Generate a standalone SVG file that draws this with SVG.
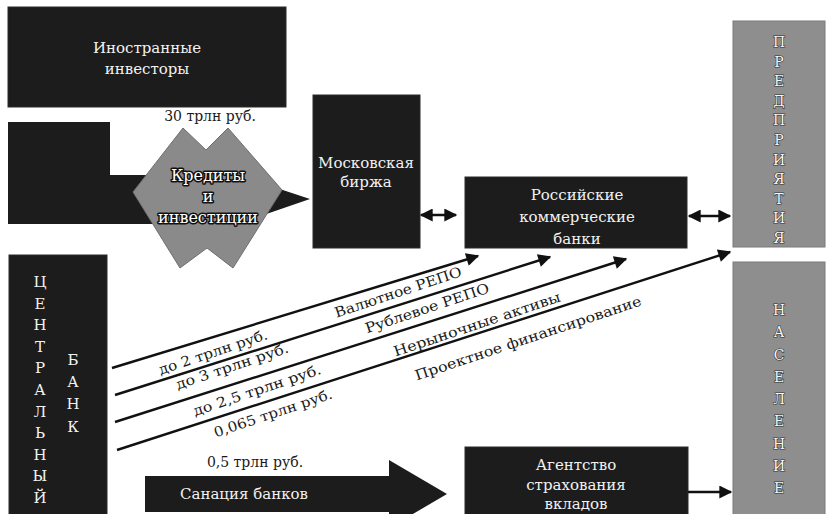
<svg xmlns="http://www.w3.org/2000/svg" width="829" height="514" viewBox="0 0 829 514">
<defs>
<style>
.blk{fill:#1c1c1c;stroke:#2a2a2a;stroke-width:1}
.gry{fill:#8e8e8e;stroke:#7a7a7a;stroke-width:1}
.wt{font-family:"DejaVu Serif","Liberation Serif",serif;font-size:15px;fill:#f2f2f2;text-anchor:middle}
.vt{font-family:"DejaVu Serif","Liberation Serif",serif;font-size:14px;fill:#f6f6f6;text-anchor:middle;stroke:#333;stroke-width:1.2px;paint-order:stroke}
.ol{font-family:"DejaVu Serif","Liberation Serif",serif;font-size:16px;fill:#ffffff;text-anchor:middle;stroke:#111;stroke-width:3px;paint-order:stroke;stroke-linejoin:round}
.lb{font-family:"DejaVu Serif","Liberation Serif",serif;font-size:14px;fill:#1a1a1a;text-anchor:middle}
.ln{stroke:#111;stroke-width:2.4;fill:none}
</style>
<marker id="ah" viewBox="0 0 10 10" refX="9" refY="5" markerWidth="15" markerHeight="13" markerUnits="userSpaceOnUse" orient="auto-start-reverse">
<path d="M0,0 L10,5 L0,10 Z" fill="#111"/>
</marker>
</defs>
<rect width="829" height="514" fill="#ffffff"/>

<g id="inostrannye">
<rect class="blk" x="8" y="7" width="278" height="100"/>
<text class="wt" x="147" y="53" font-size="16">Иностранные</text>
<text class="wt" x="147" y="74" font-size="16">инвесторы</text>
</g>

<g id="kredity">
<polygon fill="#1c1c1c" points="8,122 110,122 110,175 237,175 310,199 237,224 8,224"/>
<polygon fill="#8a8a8a" stroke="#6e6e6e" stroke-width="1" points="133,192 183,128 206,150 228,128 282,190 233,268 207,248 180,268"/>
<text class="ol" x="208" y="181">Кредиты</text>
<text class="ol" x="208" y="202">и</text>
<text class="ol" x="208" y="223" font-size="15">инвестиции</text>
<text class="lb" x="210" y="121">30 трлн руб.</text>
</g>

<g id="birzha">
<rect class="blk" x="313" y="95" width="107" height="153"/>
<text class="wt" x="366" y="168">Московская</text>
<text class="wt" x="366" y="187">биржа</text>
</g>

<g id="banki">
<rect class="blk" x="465" y="177" width="222" height="71"/>
<text class="wt" x="577" y="200">Российские</text>
<text class="wt" x="577" y="222">коммерческие</text>
<text class="wt" x="577" y="244">банки</text>
</g>

<g id="predpriyatiya">
<rect class="gry" x="733" y="21" width="92" height="226"/>
<text class="vt" font-size="13" x="779" y="47">П</text>
<text class="vt" font-size="13" x="779" y="66.6">Р</text>
<text class="vt" font-size="13" x="779" y="86.2">Е</text>
<text class="vt" font-size="13" x="779" y="105.8">Д</text>
<text class="vt" font-size="13" x="779" y="125.4">П</text>
<text class="vt" font-size="13" x="779" y="145">Р</text>
<text class="vt" font-size="13" x="779" y="164.6">И</text>
<text class="vt" font-size="13" x="779" y="184.2">Я</text>
<text class="vt" font-size="13" x="779" y="203.8">Т</text>
<text class="vt" font-size="13" x="779" y="223.4">И</text>
<text class="vt" font-size="13" x="779" y="243">Я</text>
</g>

<g id="naselenie">
<rect class="gry" x="733" y="262" width="92" height="256"/>
<text class="vt" x="779" y="315">Н</text>
<text class="vt" x="779" y="337.3">А</text>
<text class="vt" x="779" y="359.5">С</text>
<text class="vt" x="779" y="381.8">Е</text>
<text class="vt" x="779" y="404">Л</text>
<text class="vt" x="779" y="426.3">Е</text>
<text class="vt" x="779" y="448.5">Н</text>
<text class="vt" x="779" y="470.8">И</text>
<text class="vt" x="779" y="493">Е</text>
</g>

<g id="centralbank">
<rect class="blk" x="9" y="255" width="98" height="262"/>
<text class="wt" x="40" y="287">Ц</text>
<text class="wt" x="40" y="308.6">Е</text>
<text class="wt" x="40" y="330.2">Н</text>
<text class="wt" x="40" y="351.8">Т</text>
<text class="wt" x="40" y="373.4">Р</text>
<text class="wt" x="40" y="395">А</text>
<text class="wt" x="40" y="416.6">Л</text>
<text class="wt" x="40" y="438.2">Ь</text>
<text class="wt" x="40" y="459.8">Н</text>
<text class="wt" x="40" y="481.4">Ы</text>
<text class="wt" x="40" y="503">Й</text>
<text class="wt" x="73" y="365">Б</text>
<text class="wt" x="73" y="387">А</text>
<text class="wt" x="73" y="409">Н</text>
<text class="wt" x="73" y="432">К</text>
</g>

<g id="sanaciya">
<polygon fill="#1c1c1c" points="145,476 389,476 389,460 447,494 389,528 389,512 145,512"/>
<text class="wt" x="244" y="499">Санация банков</text>
<text class="lb" x="255" y="467">0,5 трлн руб.</text>
</g>

<g id="agentstvo">
<rect class="blk" x="465" y="447" width="223" height="70"/>
<text class="wt" x="576" y="470">Агентство</text>
<text class="wt" x="576" y="490">страхования</text>
<text class="wt" x="576" y="509">вкладов</text>
</g>

<g id="connectors">
<line class="ln" x1="421" y1="215" x2="456" y2="215" marker-start="url(#ah)" marker-end="url(#ah)"/>
<line class="ln" x1="689" y1="216" x2="730" y2="216" marker-start="url(#ah)" marker-end="url(#ah)"/>
<line class="ln" x1="688" y1="492" x2="731" y2="492" marker-end="url(#ah)"/>
<line class="ln" x1="112" y1="368" x2="478" y2="256" marker-end="url(#ah)"/>
<line class="ln" x1="115" y1="395" x2="550" y2="257" marker-end="url(#ah)"/>
<line class="ln" x1="115" y1="422" x2="626" y2="259" marker-end="url(#ah)"/>
<line class="ln" x1="117" y1="450" x2="730" y2="252" marker-end="url(#ah)"/>
<g transform="translate(213,352) rotate(-18.5)"><text class="lb" x="0" y="5" textLength="114" lengthAdjust="spacingAndGlyphs">до 2 трлн руб.</text></g>
<g transform="translate(232,366) rotate(-18.5)"><text class="lb" x="0" y="5" textLength="118" lengthAdjust="spacingAndGlyphs">до 3 трлн руб.</text></g>
<g transform="translate(257,390) rotate(-18.5)"><text class="lb" x="0" y="5" textLength="134" lengthAdjust="spacingAndGlyphs">до 2,5 трлн руб.</text></g>
<g transform="translate(273,413) rotate(-18.5)"><text class="lb" x="0" y="5" textLength="124" lengthAdjust="spacingAndGlyphs">0,065 трлн руб.</text></g>
<g transform="translate(398,292) rotate(-18.5)"><text class="lb" x="0" y="5" textLength="133" lengthAdjust="spacingAndGlyphs">Валютное РЕПО</text></g>
<g transform="translate(427,308) rotate(-18.5)"><text class="lb" x="0" y="5" textLength="130" lengthAdjust="spacingAndGlyphs">Рублевое РЕПО</text></g>
<g transform="translate(477,324) rotate(-18.5)"><text class="lb" x="0" y="5" textLength="175" lengthAdjust="spacingAndGlyphs">Нерыночные активы</text></g>
<g transform="translate(528,338) rotate(-18.5)"><text class="lb" x="0" y="5" textLength="238" lengthAdjust="spacingAndGlyphs">Проектное финансирование</text></g>
</g>
</svg>
